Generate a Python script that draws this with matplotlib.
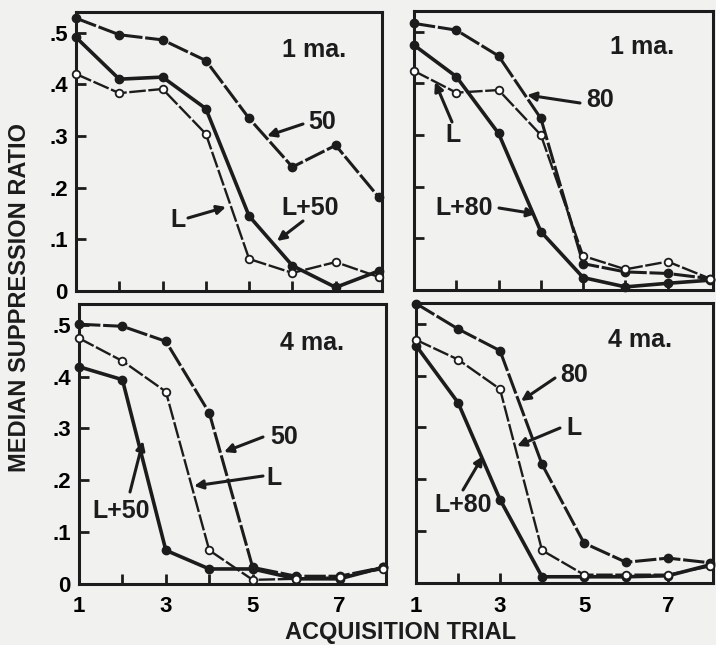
import matplotlib
matplotlib.use("Agg")
import matplotlib.pyplot as plt
from matplotlib.patches import FancyArrowPatch

W, H = 716, 645
plt.rcParams['font.family'] = ['Liberation Sans', 'DejaVu Sans']
plt.rcParams['font.weight'] = 'bold'

trials = [1, 2, 3, 4, 5, 6, 7, 8]
xtick_pos = [1, 2, 3, 4, 5, 6, 7]
xtick_labels = ["1", "", "3", "", "5", "", "7"]
ytick_pos = [0, 0.1, 0.2, 0.3, 0.4, 0.5]
ytick_labels = ["0", ".1", ".2", ".3", ".4", ".5"]

# 1 ma., 50 / L+50 / L
tl_50 = [0.528, 0.496, 0.486, 0.446, 0.334, 0.240, 0.282, 0.181]
tl_L50 = [0.491, 0.410, 0.414, 0.353, 0.145, 0.049, 0.007, 0.039]
tl_L = [0.420, 0.383, 0.391, 0.304, 0.062, 0.035, 0.056, 0.027]
# 1 ma., 80 / L+80 / L
tr_80 = [0.516, 0.503, 0.453, 0.332, 0.051, 0.035, 0.032, 0.022]
tr_L80 = [0.474, 0.413, 0.303, 0.113, 0.024, 0.006, 0.013, 0.019]
tr_L = [0.424, 0.382, 0.387, 0.300, 0.066, 0.040, 0.055, 0.022]
# 4 ma., 50 / L+50 / L
bl_50 = [0.501, 0.497, 0.468, 0.330, 0.032, 0.015, 0.015, 0.032]
bl_L50 = [0.419, 0.394, 0.065, 0.029, 0.029, 0.010, 0.010, 0.032]
bl_L = [0.474, 0.430, 0.371, 0.065, 0.008, 0.010, 0.013, 0.029]
# 4 ma., 80 / L+80 / L
br_80 = [0.539, 0.490, 0.448, 0.229, 0.077, 0.040, 0.048, 0.039]
br_L80 = [0.458, 0.348, 0.161, 0.012, 0.012, 0.012, 0.014, 0.035]
br_L = [0.469, 0.431, 0.374, 0.063, 0.016, 0.016, 0.016, 0.032]

INK = '#1c1c1c'
BG = '#f1f1ef'

fig = plt.figure(figsize=(W / 100, H / 100), dpi=100, facecolor=BG)

def px_axes(x0, y0, x1, y1):
    return fig.add_axes([x0 / W, 1 - y1 / H, (x1 - x0) / W, (y1 - y0) / H])

ax_tl = px_axes(76, 12, 382, 291)
ax_tr = px_axes(414, 11, 713, 290)
ax_bl = px_axes(79, 304, 386, 584)
ax_br = px_axes(416, 303, 713, 583)

def draw(ax, tone, combo, light, label_y, label_x):
    ax.set_facecolor(BG)
    ax.plot(trials, tone, color=INK, lw=2.2, dashes=(7, 0.9), marker='o',
            ms=6, mfc=INK, mec=INK, clip_on=False, zorder=3)
    ax.plot(trials, light, color=INK, lw=1.7, dashes=(7, 1.1), marker='o',
            ms=5.5, mfc='white', mec=INK, mew=1.3, clip_on=False, zorder=4)
    ax.plot(trials, combo, color=INK, lw=2.6, marker='o',
            ms=6, mfc=INK, mec=INK, clip_on=False, zorder=3)
    ax.set_xlim(1, 8.07)
    ax.set_ylim(0, 0.54)
    ax.set_xticks(xtick_pos)
    ax.set_yticks(ytick_pos)
    ax.tick_params(direction='in', length=7, width=2, color=INK,
                   labelsize=15, top=False, right=False,
                   labelbottom=False, labelleft=False)
    for s in ax.spines.values():
        s.set_linewidth(2.2)
        s.set_color(INK)
    if label_y:
        ax.set_yticklabels(ytick_labels, fontweight='bold')
        ax.tick_params(axis='y', labelleft=True, pad=6, labelsize=16)
    if label_x:
        ax.set_xticklabels(xtick_labels, fontweight='bold')
        ax.tick_params(axis='x', labelbottom=True, labelsize=16, pad=9)

draw(ax_tl, tl_50, tl_L50, tl_L, True, False)
draw(ax_tr, tr_80, tr_L80, tr_L, False, False)
draw(ax_bl, bl_50, bl_L50, bl_L, True, True)
draw(ax_br, br_80, br_L80, br_L, False, True)

def txt(s, x, y, size=18):
    fig.text(x / W, 1 - y / H, s, ha='center', va='center', fontsize=size,
             fontweight='bold', color=INK)

def arrow(x0, y0, x1, y1):
    fig.add_artist(FancyArrowPatch(
        (x0 / W, 1 - y0 / H), (x1 / W, 1 - y1 / H), transform=fig.transFigure,
        arrowstyle='-|>', mutation_scale=13, lw=2.2, color=INK,
        shrinkA=0, shrinkB=0, zorder=10))

# top-left
txt("1 ma.", 314, 50)
txt("50", 322, 122); arrow(303, 124, 267, 136)
txt("L+50", 310, 208); arrow(303, 221, 277, 241)
txt("L", 178, 220); arrow(188, 218, 226, 207)
# top-right
txt("1 ma.", 642, 47)
txt("80", 600, 100); arrow(580, 103, 527, 95)
txt("L", 453, 135); arrow(452, 122, 435, 82)
txt("L+80", 464, 208); arrow(499, 208, 536, 214)
# bottom-left
txt("4 ma.", 312, 343)
txt("50", 284, 437); arrow(263, 437, 224, 452)
txt("L", 274, 478); arrow(263, 476, 194, 486)
txt("L+50", 121, 511); arrow(130, 492, 143, 441)
# bottom-right
txt("4 ma.", 640, 340)
txt("80", 574, 375); arrow(555, 378, 521, 401)
txt("L", 574, 428); arrow(560, 428, 517, 446)
txt("L+80", 463, 505); arrow(463, 490, 483, 456)

fig.text(20 / W, 1 - 298 / H, "MEDIAN SUPPRESSION RATIO", rotation=90,
         ha='center', va='center', fontsize=17, fontweight='bold', color=INK)
fig.text(401 / W, 1 - 632 / H, "ACQUISITION TRIAL", ha='center', va='center',
         fontsize=17, fontweight='bold', color=INK)

fig.savefig("out.png", dpi=100, facecolor=BG)
